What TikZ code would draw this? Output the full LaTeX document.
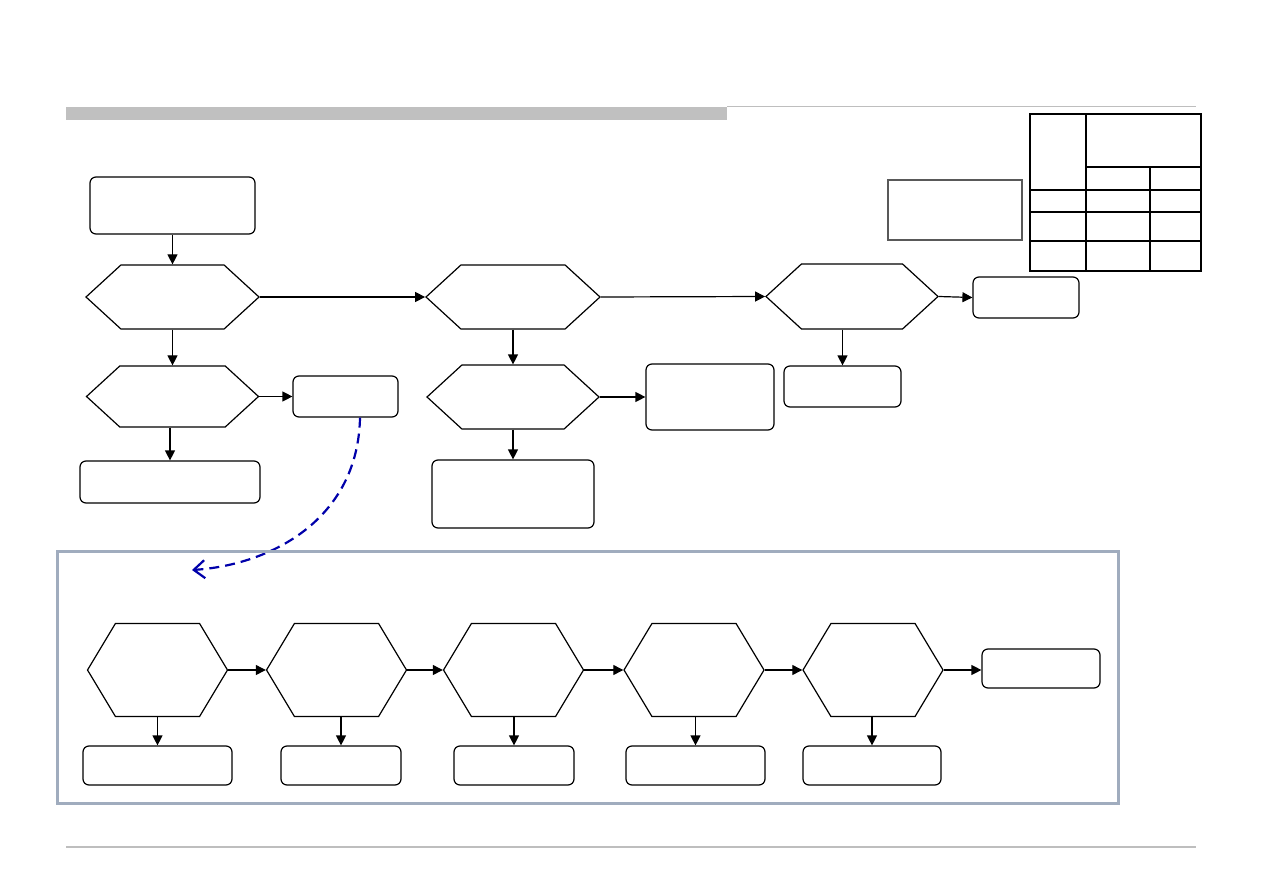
\documentclass[tikz,border=0pt]{standalone}
\usetikzlibrary{arrows.meta,calc,shapes.symbols}
\definecolor{framegray}{RGB}{160,172,190}
\definecolor{bargray}{RGB}{192,192,192}
\definecolor{linegray}{RGB}{190,190,190}
\definecolor{dashblue}{RGB}{0,0,170}

\begin{document}
\begin{tikzpicture}[x=0.5pt, y=-0.5pt, >={Triangle[length=5pt,width=5pt]}]
  \tikzstyle{box}=[rectangle, rounded corners=3pt, draw, line width=0.6pt, inner sep=0pt]
  \tikzstyle{hexwide}=[signal, signal to=east and west, signal pointer angle=85, draw, line width=0.6pt, inner sep=0pt]
  \tikzstyle{hextall}=[signal, signal to=east and west, signal pointer angle=118, draw, line width=0.6pt, inner sep=0pt, minimum width=70pt, minimum height=46.5pt]
  \tikzstyle{link}=[->, line width=0.6pt]
  \useasboundingbox (0,0) rectangle (1263,893);

  % page header and footer
  \fill[bargray] (66,107) rectangle (727,120);
  \draw[linegray, line width=0.5pt] (727,107) -- (1196,107);
  \draw[linegray, line width=0.8pt] (66,847) -- (1196,847);

  % table at top right
  \draw[line width=1pt] (1030,114) rectangle (1201,271);
  \draw[line width=1pt] (1086,114) -- (1086,271) (1150,167) -- (1150,271) (1086,167) -- (1201,167);
  \foreach \y in {190,212,241}
    \draw[line width=1pt] (1030,\y) -- (1201,\y);
  \node[rectangle, draw=black!65, line width=0.6pt, minimum width=67pt, minimum height=30pt, inner sep=0pt] (note) at (955,210) {};

  % upper flow
  \node[box, minimum width=82.5pt, minimum height=28.5pt] (start) at (172.5,205.5) {};
  \node[hexwide, minimum width=86.5pt, minimum height=32pt] (chkA) at (172.5,297) {};
  \node[hexwide, minimum width=86pt, minimum height=30.5pt] (chkB) at (172.5,396.5) {};
  \node[box, minimum width=52.5pt, minimum height=20.5pt] (resB) at (345.5,396.5) {};
  \node[box, minimum width=90pt, minimum height=21pt] (failB) at (170,482) {};
  \node[hexwide, minimum width=87pt, minimum height=32pt] (chkC) at (513,297) {};
  \node[hexwide, minimum width=86pt, minimum height=32pt] (chkD) at (513,397) {};
  \node[box, minimum width=64pt, minimum height=33pt] (resD) at (710,397) {};
  \node[box, minimum width=81pt, minimum height=34pt] (failD) at (513,494) {};
  \node[hexwide, minimum width=86pt, minimum height=32.5pt] (chkE) at (852,296.5) {};
  \node[box, minimum width=53pt, minimum height=20.5pt] (resE) at (1026,297.5) {};
  \node[box, minimum width=58.5pt, minimum height=20.5pt] (failE) at (842.5,386.5) {};

  \draw[link] (start) -- (chkA);
  \draw[link] (chkA) -- (chkB);
  \draw[link] (chkB.south -| failB.north) -- (failB.north);
  \draw[link] (chkB.east) -- (resB.west);
  \draw[link] (chkA.east) -- (chkC.west);
  \draw[link] (chkC) -- (chkD);
  \draw[link] (chkD) -- (failD);
  \draw[link] (chkD.east) -- (resD.west);
  \draw[link] (chkC.east) -- (chkE.west);
  \draw[link] (chkE.east) -- (resE.west);
  \draw[link] (chkE.south -| failE.north) -- (failE.north);

  % detail of resB
  \coordinate (dashend) at (192,570);
  \draw[dashblue, line width=1.1pt, dash pattern=on 5pt off 3pt, -{Straight Barb[length=5.5pt,width=9pt]}]
    ($(resB.south)+(14.5,0)$) .. controls (358,520) and (270,565) .. (dashend);
  \draw[framegray, line width=1.5pt] (57,551) rectangle (1118,803);

  % lower flow
  \foreach \n/\x in {1/157.5, 2/336.5, 3/513.5, 4/694, 5/873}
    \node[hextall] (stage\n) at (\x,670) {};
  \foreach \n/\x/\w in {1/157.5/74.5, 2/341/60, 3/514/60, 4/695.5/69.5, 5/872/69}
    \node[box, minimum width=\w pt, minimum height=19.5pt] (out\n) at (\x,765.5) {};
  \node[box, minimum width=59pt, minimum height=19.5pt] (final) at (1041,668.5) {};

  \foreach \a/\b in {1/2, 2/3, 3/4, 4/5}
    \draw[link] (stage\a.east) -- (stage\b.west);
  \draw[link] (stage5.east) -- (stage5.east -| final.west);
  \foreach \n in {1,...,5}
    \draw[link] (out\n.north |- stage\n.south) -- (out\n.north);
\end{tikzpicture}
\end{document}
